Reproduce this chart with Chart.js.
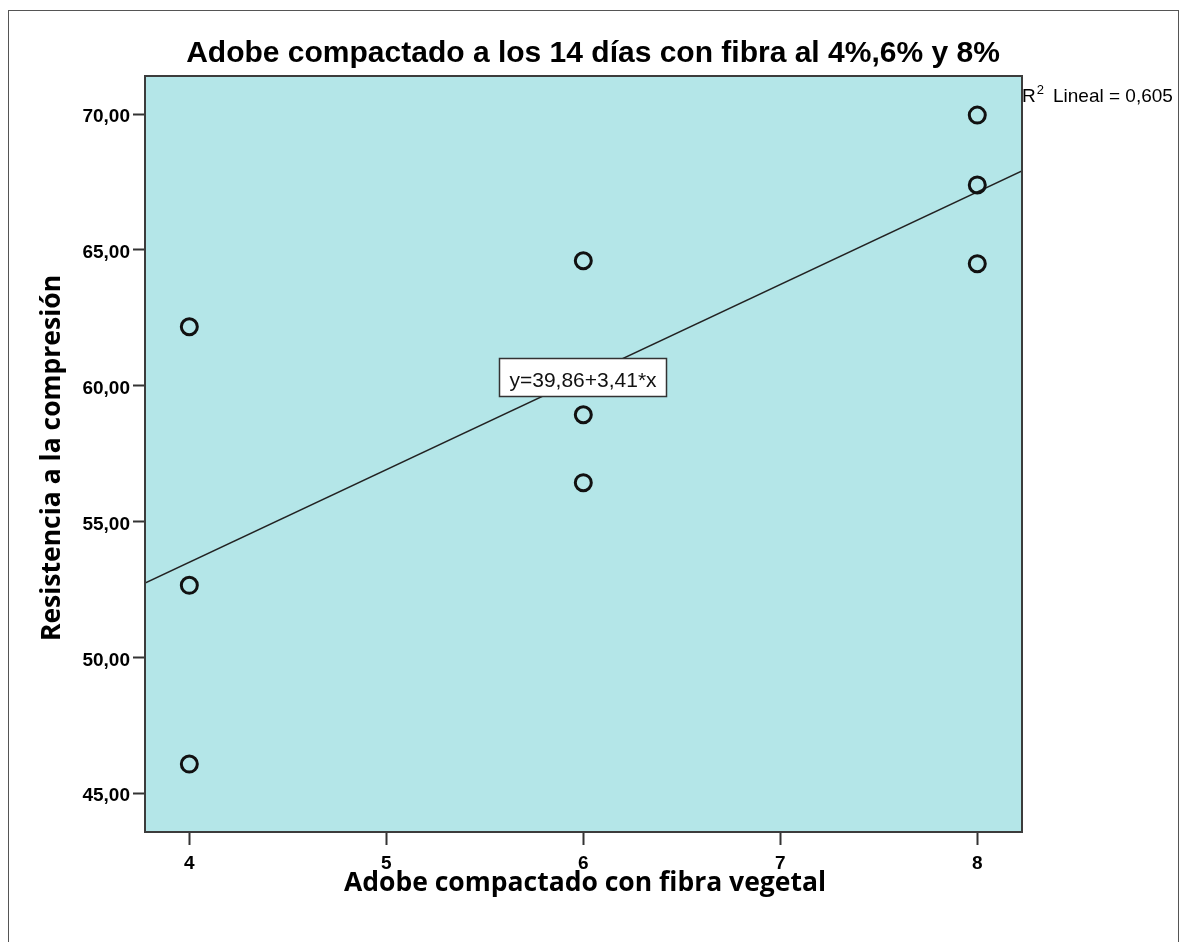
<!DOCTYPE html>
<html>
<head>
<meta charset="utf-8">
<script src="https://cdn.jsdelivr.net/npm/chart.js@4.4.1/dist/chart.umd.min.js"></script>
<style>
  html, body { margin: 0; padding: 0; background: #fff; }
  #wrap { width: 1181px; height: 942px; position: relative; }
</style>
</head>
<body>
<div id="wrap"><canvas id="c"></canvas></div>
<script>
/* Scatter: adobe compactado 14 días, resistencia vs % fibra */
const TITLE = "Adobe compactado a los 14 días con fibra al 4%,6% y 8%";
const X_TITLE = "Adobe compactado con fibra vegetal";
const Y_TITLE = "Resistencia a la compresión";
const FIT_LABEL = "y=39,86+3,41*x";

const pointX = [4, 4, 4, 6, 6, 6, 8, 8, 8];
const pointY = [62.17, 52.65, 46.07, 64.60, 58.93, 56.43, 69.96, 67.39, 64.49];
const fitX = [3.775, 8.227];
const fitY = [52.73, 67.91];
const xTicks = [4, 5, 6, 7, 8];
const xTickLabels = ["4", "5", "6", "7", "8"];
const yTicks = [45, 50, 55, 60, 65, 70];
const yTickLabels = ["45,00", "50,00", "55,00", "60,00", "65,00", "70,00"];

const COL = { bg: "#b4e6e8", ink: "#111", frame: "#3c3c3c" };
const SANS = "'Liberation Sans', Arial, sans-serif";
const AXT = "'Open Sans', 'Liberation Sans', sans-serif";

const decor = {
  id: "decor",
  beforeDraw(chart) {
    const { ctx, chartArea: a } = chart;
    ctx.save();
    ctx.fillStyle = "#fff";
    ctx.fillRect(0, 0, chart.width, chart.height);
    ctx.strokeStyle = "#555";
    ctx.lineWidth = 1;
    ctx.strokeRect(8.5, 10.5, 1170, 960);
    ctx.fillStyle = COL.bg;
    ctx.fillRect(a.left, a.top, a.right - a.left, a.bottom - a.top);
    ctx.restore();
  },
  afterDatasetsDraw(chart) {
    const { ctx } = chart;
    ctx.save();
    ctx.fillStyle = "#fff";
    ctx.fillRect(499, 358, 168, 39);
    ctx.strokeStyle = "#333";
    ctx.lineWidth = 1.5;
    ctx.strokeRect(499.5, 358.5, 167, 38);
    ctx.fillStyle = "#111";
    ctx.font = "21px " + SANS;
    ctx.textAlign = "center";
    ctx.textBaseline = "alphabetic";
    ctx.fillText(FIT_LABEL, 583, 387);
    ctx.restore();
  },
  afterDraw(chart) {
    const { ctx, chartArea: a } = chart;
    ctx.save();
    ctx.strokeStyle = COL.frame;
    ctx.lineWidth = 2;
    ctx.strokeRect(a.left, a.top, a.right - a.left, a.bottom - a.top);

    ctx.fillStyle = "#000";
    ctx.textAlign = "center";
    ctx.textBaseline = "alphabetic";
    ctx.font = "bold 30px " + SANS;
    ctx.fillText(TITLE, 593, 62);

    ctx.font = "bold 26.5px " + AXT;
    ctx.fillText(X_TITLE, 585, 891);

    ctx.translate(60, 458);
    ctx.rotate(-Math.PI / 2);
    ctx.fillText(Y_TITLE, 0, 0);
    ctx.setTransform(1, 0, 0, 1, 0, 0);

    // R² note to the right of the plot
    ctx.textAlign = "left";
    ctx.font = "19px " + SANS;
    ctx.fillText("R", 1022, 102);
    const rw = ctx.measureText("R").width;
    ctx.font = "13px " + SANS;
    ctx.fillText("2", 1022 + rw + 1, 94);
    ctx.font = "19px " + SANS;
    ctx.fillText("Lineal = 0,605", 1053, 102);
    ctx.restore();
  },
};

new Chart(document.getElementById("c"), {
  type: "scatter",
  data: {
    datasets: [
      {
        data: pointX.map((x, i) => ({ x, y: pointY[i] })),
        pointRadius: 8, pointHoverRadius: 8, borderWidth: 3,
        borderColor: COL.ink, backgroundColor: "rgba(0,0,0,0)",
      },
      {
        data: fitX.map((x, i) => ({ x, y: fitY[i] })),
        showLine: true, pointRadius: 0, borderWidth: 1.5, borderColor: "#222",
      },
    ],
  },
  options: {
    responsive: true, maintainAspectRatio: false, animation: false,
    layout: { padding: { top: 76, right: 159, left: 0, bottom: 0 } },
    plugins: { legend: { display: false }, tooltip: { enabled: false } },
    scales: {
      x: {
        type: "linear", min: 3.775, max: 8.227,
        afterFit: (s) => { s.height = 110; },
        afterBuildTicks: (s) => { s.ticks = xTicks.map((v) => ({ value: v })); },
        ticks: {
          color: "#000", font: { family: SANS, size: 19, weight: "bold" }, padding: 7,
          callback: (v, i) => xTickLabels[i],
        },
        grid: { drawOnChartArea: false, drawTicks: true, tickLength: 13, tickColor: "#333", tickWidth: 2 },
        border: { display: true, color: COL.frame, width: 2 },
      },
      y: {
        type: "linear", min: 43.57, max: 71.40,
        afterFit: (s) => { s.width = 145; },
        afterBuildTicks: (s) => { s.ticks = yTicks.map((v) => ({ value: v })); },
        ticks: {
          color: "#000", font: { family: SANS, size: 19, weight: "bold" }, padding: 3, labelOffset: 3,
          callback: (v, i) => yTickLabels[i],
        },
        grid: { drawOnChartArea: false, drawTicks: true, tickLength: 12, tickColor: "#333", tickWidth: 2 },
        border: { display: true, color: COL.frame, width: 2 },
      },
    },
  },
  plugins: [decor],
});
</script>
</body>
</html>
